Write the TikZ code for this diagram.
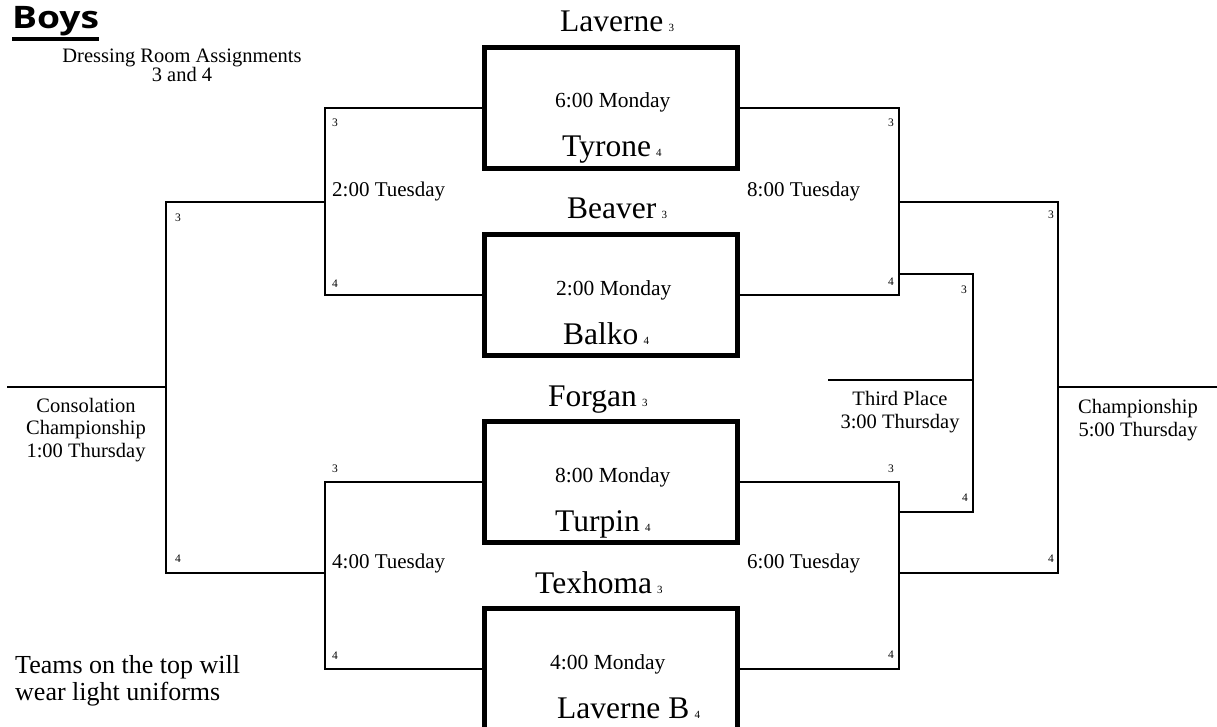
\documentclass[tikz,border=0pt]{standalone}
\usepackage{fontspec}
\setmainfont{Liberation Serif}
\newfontfamily\boysfont[FakeStretch=1.2]{Open Sans}
\begin{document}
\begin{tikzpicture}[x=1pt,y=-1pt,
  line join=miter,
  gamebox/.style={draw, line width=5pt, minimum width=253pt, minimum height=121pt, inner sep=0pt},
  wire/.style={draw, line width=2.6pt},
  team/.style={anchor=base west, inner sep=0pt, font=\fontsize{31.5}{31.5}\selectfont},
  gtime/.style={anchor=base west, inner sep=0pt, font=\fontsize{21.5}{21.5}\selectfont},
  rtime/.style={anchor=base west, inner sep=0pt, font=\fontsize{21}{21}\selectfont},
  seed/.style={anchor=base, inner sep=0pt, font=\fontsize{11.5}{11.5}\selectfont},
  caption/.style={align=center, inner sep=0pt, font=\fontsize{20.5}{22.5}\selectfont}
]
\useasboundingbox (0,0) rectangle (1217,727);
\clip (0,0) rectangle (1217,727);

% games (Monday boxes)
\node[gamebox] (g1) at (611,108) {};
\node[gamebox] (g2) at (611,295) {};
\node[gamebox] (g3) at (611,482) {};
\node[gamebox] (g4) at (611,669) {};

% bracket points
\coordinate (l1) at (325,202);
\coordinate (l2) at (325,573);
\coordinate (r1) at (899,202);
\coordinate (r2) at (899,573);
\coordinate (cons) at (166,387);
\coordinate (consEnd) at (7,387);
\coordinate (champ) at (1058,387);
\coordinate (champEnd) at (1217,387);
\coordinate (tp) at (973,380);
\coordinate (tpEnd) at (828,380);
\coordinate (tpTop) at (899,274);
\coordinate (tpBot) at (899,512);

\path[wire] (g1.west) -| (l1) |- (g2.west);
\path[wire] (g3.west) -| (l2) |- (g4.west);
\path[wire] (g1.east) -| (r1) |- (g2.east);
\path[wire] (g3.east) -| (r2) |- (g4.east);
\path[wire] (l1) -| (cons) |- (l2);
\path[wire] (cons) -- (consEnd);
\path[wire] (r1) -| (champ) |- (r2);
\path[wire] (champ) -- (champEnd);
\path[wire] (tpTop) -| (tp) |- (tpBot);
\path[wire] (tp) -- (tpEnd);

% team names
\node[team] (t1) at (560,32) {Laverne\,{\fontsize{11}{11}\selectfont 3}};
\node[team] (t2) at (562,157) {Tyrone\,{\fontsize{11}{11}\selectfont 4}};
\node[team] (t3) at (567,219) {Beaver\,{\fontsize{11}{11}\selectfont 3}};
\node[team] (t4) at (563,344) {Balko\,{\fontsize{11}{11}\selectfont 4}};
\node[team] (t5) at (548,406) {Forgan\,{\fontsize{11}{11}\selectfont 3}};
\node[team] (t6) at (555,531) {Turpin\,{\fontsize{11}{11}\selectfont 4}};
\node[team] (t7) at (535,593) {Texhoma\,{\fontsize{11}{11}\selectfont 3}};
\node[team] (t8) at (557,718) {Laverne B\,{\fontsize{11}{11}\selectfont 4}};

% Monday times
\node[gtime] (m1) at (555,108) {6:00 Monday};
\node[gtime] (m2) at (556,295) {2:00 Monday};
\node[gtime] (m3) at (555,482) {8:00 Monday};
\node[gtime] (m4) at (550,669) {4:00 Monday};

% Tuesday times
\node[rtime] (tu1) at (332,197) {2:00 Tuesday};
\node[rtime] (tu2) at (747,197) {8:00 Tuesday};
\node[rtime] (tu3) at (332,568) {4:00 Tuesday};
\node[rtime] (tu4) at (747,568) {6:00 Tuesday};

% seed numbers
\node[seed] (s1) at (335,127) {3};
\node[seed] (s2) at (335,287) {4};
\node[seed] (s3) at (335,472) {3};
\node[seed] (s4) at (335,659) {4};
\node[seed] (s5) at (891,127) {3};
\node[seed] (s6) at (891,285) {4};
\node[seed] (s7) at (891,472) {3};
\node[seed] (s8) at (891,658) {4};
\node[seed] (s9) at (178,222) {3};
\node[seed] (s10) at (178,562) {4};
\node[seed] (s11) at (1051,219) {3};
\node[seed] (s12) at (1051,562) {4};
\node[seed] (s13) at (964,293) {3};
\node[seed] (s14) at (965,501) {4};

% captions (base = last line's baseline)
\node[caption, anchor=base] (cap1) at (900,428) {Third Place\\3:00 Thursday};
\node[caption, anchor=base] (cap2) at (1138,436) {Championship\\5:00 Thursday};
\node[caption, anchor=base] (cap3) at (86,457) {Consolation\\Championship\\1:00 Thursday};
\node[caption, anchor=base, font=\fontsize{20.5}{18}\selectfont] (cap4) at (182,82) {Dressing Room Assignments\\3 and 4};
\node[anchor=base west, align=left, inner sep=0pt, font=\fontsize{26}{27}\selectfont] (note) at (15,700) {Teams on the top will\\wear light uniforms};

% title
\node[anchor=base west, inner sep=0pt, font=\boysfont\bfseries\fontsize{31}{31}\selectfont] (boys) at (12,29) {Boys};
\draw[line width=4pt] (boys.base west) ++(0,10) coordinate (ul1) -- (ul1 -| boys.east);
\end{tikzpicture}
\end{document}
